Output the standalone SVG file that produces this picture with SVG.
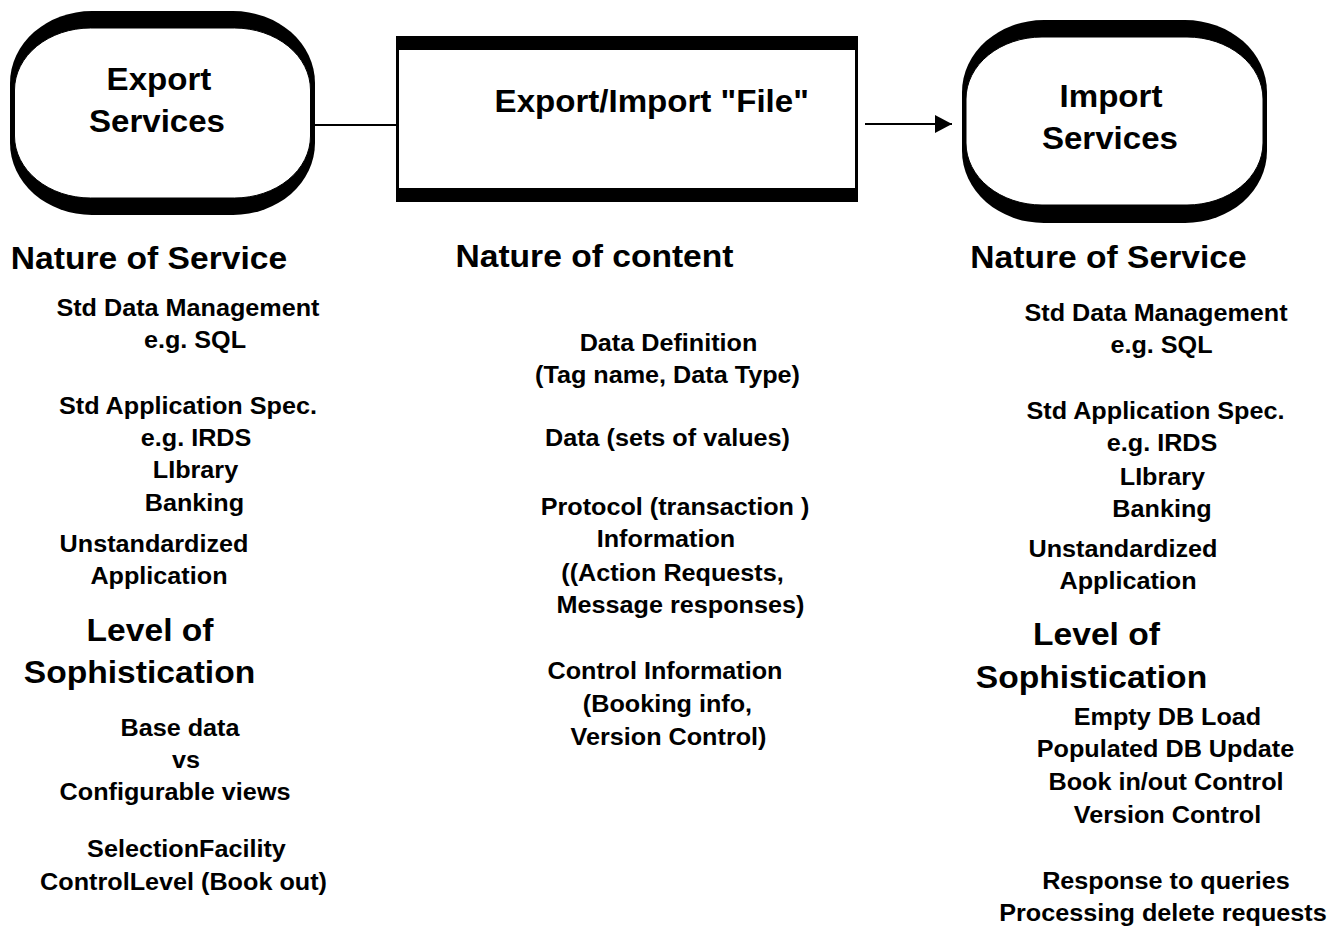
<svg xmlns="http://www.w3.org/2000/svg" width="1337" height="927" viewBox="0 0 1337 927">
<defs>
<style>
text{font-family:"Liberation Sans",Arial,sans-serif;font-weight:bold;fill:#000;text-anchor:middle}
.t{font-size:31.5px}
.h{font-size:32px}
.s{font-size:24px}
.conn{stroke:#000;stroke-width:2;fill:none}
</style>
<marker id="arr" markerWidth="18" markerHeight="18" refX="17" refY="9" orient="auto" markerUnits="userSpaceOnUse">
<path d="M0,0 L17,9 L0,18 Z" fill="#000"/>
</marker>
</defs>
<rect width="1337" height="927" fill="#fff"/>
<g id="connectors">
<line class="conn" x1="314" y1="125" x2="397" y2="125"/>
<line class="conn" x1="865" y1="124" x2="952" y2="124" marker-end="url(#arr)"/>
</g>
<g id="export-services">
<rect x="10" y="11" width="305" height="204" rx="82" ry="72" fill="#000"/>
<rect x="14.5" y="28" width="296" height="170" rx="76" ry="62" fill="#fff" stroke="#000" stroke-width="1"/>
</g>
<g id="file">
<rect x="396" y="36" width="462" height="166" fill="#000"/>
<rect x="399" y="50" width="456" height="138" fill="#fff"/>
</g>
<g id="import-services">
<rect x="962" y="20" width="305" height="203" rx="82" ry="72" fill="#000"/>
<rect x="966" y="37" width="297" height="168" rx="76" ry="62" fill="#fff" stroke="#000" stroke-width="1"/>
</g>
<g transform="scale(1.05 1)">
<text class="t" x="151.4" y="90">Export</text>
<text class="t" x="149.5" y="132">Services</text>
<text class="t" x="620.7" y="112">Export/Import "File"</text>
<text class="t" x="1058.1" y="107">Import</text>
<text class="t" x="1057.1" y="149">Services</text>

<text class="h" x="141.9" y="269">Nature of Service</text>
<text class="s" x="179.0" y="316">Std Data Management</text>
<text class="s" x="185.7" y="348">e.g. SQL</text>
<text class="s" x="179.0" y="414">Std Application Spec.</text>
<text class="s" x="186.7" y="446">e.g. IRDS</text>
<text class="s" x="186.2" y="478">LIbrary</text>
<text class="s" x="185.2" y="511">Banking</text>
<text class="s" x="146.7" y="552">Unstandardized</text>
<text class="s" x="151.4" y="584">Application</text>
<text class="h" x="142.9" y="641">Level of</text>
<text class="h" x="132.9" y="683">Sophistication</text>
<text class="s" x="171.4" y="736">Base data</text>
<text class="s" x="177.1" y="768">vs</text>
<text class="s" x="166.7" y="800">Configurable views</text>
<text class="s" x="177.6" y="857">SelectionFacility</text>
<text class="s" x="174.8" y="890">ControlLevel (Book out)</text>

<text class="h" x="566.2" y="267">Nature of content</text>
<text class="s" x="636.7" y="351">Data Definition</text>
<text class="s" x="635.7" y="383">(Tag name, Data Type)</text>
<text class="s" x="635.7" y="446">Data (sets of values)</text>
<text class="s" x="642.9" y="515">Protocol (transaction )</text>
<text class="s" x="634.3" y="547">Information</text>
<text class="s" x="640.5" y="581">((Action Requests,</text>
<text class="s" x="648.1" y="613">Message responses)</text>
<text class="s" x="633.3" y="679">Control Information</text>
<text class="s" x="635.7" y="712">(Booking info,</text>
<text class="s" x="636.7" y="745">Version Control)</text>

<text class="h" x="1055.7" y="268">Nature of Service</text>
<text class="s" x="1101.0" y="321">Std Data Management</text>
<text class="s" x="1106.2" y="353">e.g. SQL</text>
<text class="s" x="1100.5" y="419">Std Application Spec.</text>
<text class="s" x="1106.7" y="451">e.g. IRDS</text>
<text class="s" x="1107.1" y="485">LIbrary</text>
<text class="s" x="1106.7" y="517">Banking</text>
<text class="s" x="1069.5" y="557">Unstandardized</text>
<text class="s" x="1074.3" y="589">Application</text>
<text class="h" x="1044.3" y="645">Level of</text>
<text class="h" x="1039.5" y="688">Sophistication</text>
<text class="s" x="1111.9" y="725">Empty DB Load</text>
<text class="s" x="1110.0" y="757">Populated DB Update</text>
<text class="s" x="1110.5" y="790">Book in/out Control</text>
<text class="s" x="1111.9" y="823">Version Control</text>
<text class="s" x="1110.5" y="889">Response to queries</text>
<text class="s" x="1107.6" y="921">Processing delete requests</text>
</g>
</svg>
